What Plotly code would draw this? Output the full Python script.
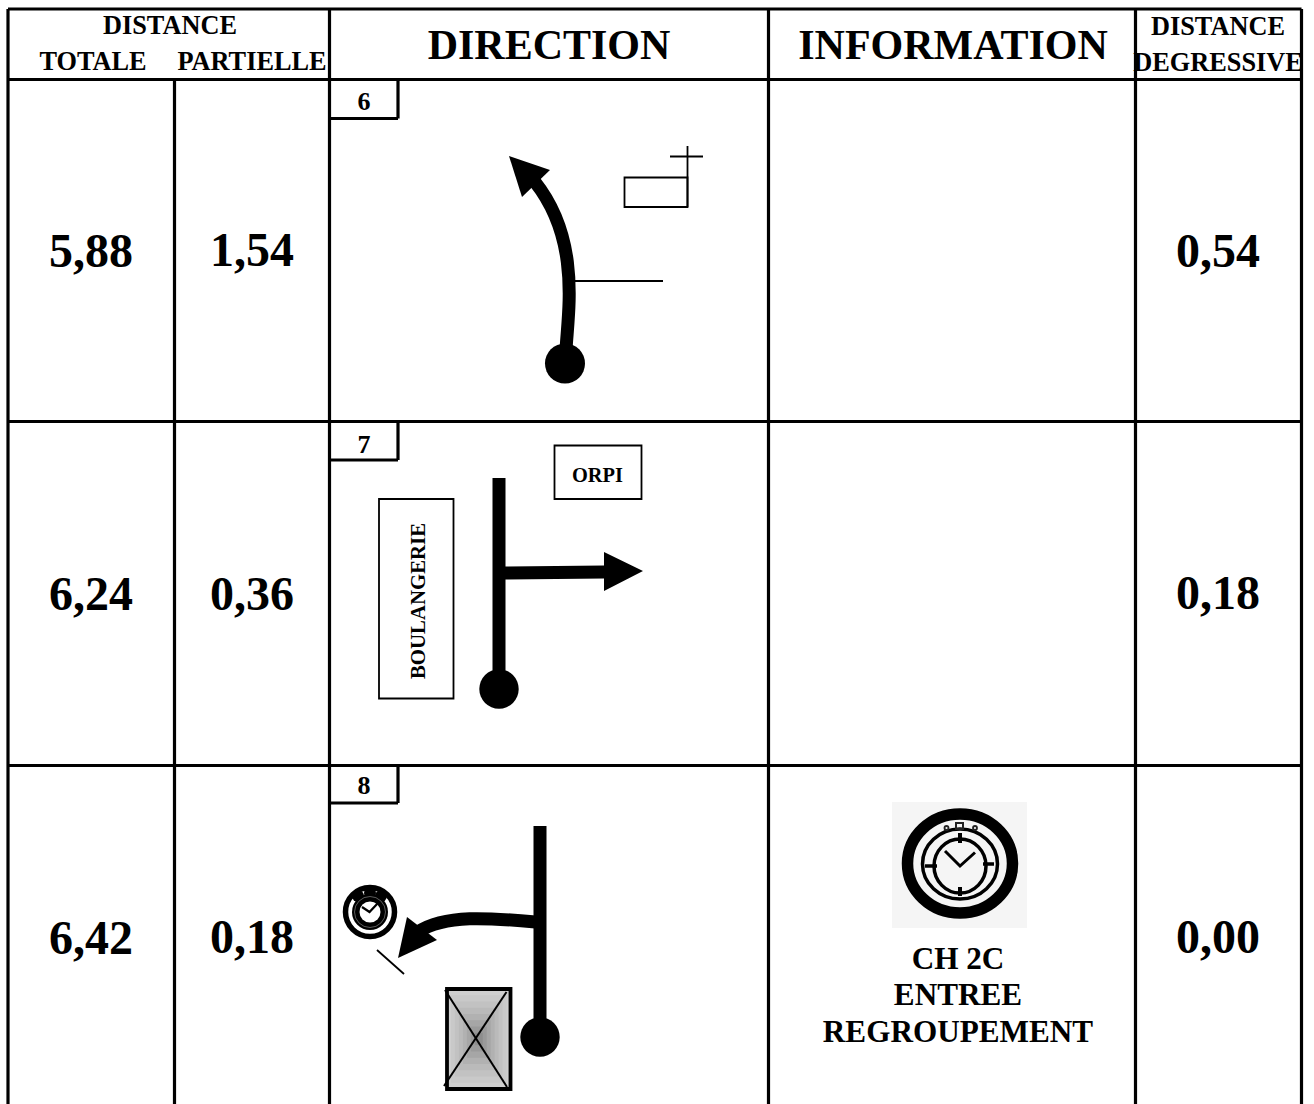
import plotly.graph_objects as go

# ---------- content ----------
row_ids = ["6", "7", "8"]
totale = ["5,88", "6,24", "6,42"]
partielle = ["1,54", "0,36", "0,18"]
degressive = ["0,54", "0,18", "0,00"]
info_lines = ["CH 2C", "ENTREE", "REGROUPEMENT"]

FONT = "Liberation Serif"
W, H = 1314, 1104

# ---------- table geometry ----------
col_x = [8, 174.5, 329.5, 768.5, 1135.5, 1301.5]
row_y = [9, 79.5, 421.5, 765.5]
row_text_y = [[255, 254, 255], [598, 598, 597], [942, 941, 941]]
num_x = [91, 252, 1218]
id_box_y = [(79.5, 118.5), (421.5, 460), (765.5, 803)]

shapes = []


def line(x0, y0, x1, y1, w=3.2, c="#000"):
    shapes.append(dict(type="line", x0=x0, y0=y0, x1=x1, y1=y1,
                       line=dict(color=c, width=w), layer="above"))


def rect(x0, y0, x1, y1, w=2, lc="#000", fill=None):
    d = dict(type="rect", x0=x0, y0=y0, x1=x1, y1=y1, layer="above",
             line=dict(color=lc, width=w))
    if fill:
        d["fillcolor"] = fill
    shapes.append(d)


def oval(cx, cy, rx, ry, fill=None, lc="rgba(0,0,0,0)", w=0):
    d = dict(type="circle", x0=cx - rx, x1=cx + rx, y0=cy - ry, y1=cy + ry,
             layer="above", line=dict(color=lc, width=w))
    if fill:
        d["fillcolor"] = fill
    shapes.append(d)


def path(p, w=0, lc="#000", fill=None):
    d = dict(type="path", path=p, layer="above", line=dict(color=lc, width=w))
    if fill:
        d["fillcolor"] = fill
    shapes.append(d)


# ---------- diagram 6 ----------
path("M 566 350 C 568 312, 581 240, 535 182", w=13)
path("M 509 156 L 550 170 L 522 197 Z", fill="#000")
oval(565, 363.5, 20, 20, "#000")
line(575, 281, 663, 281, 1.8)
rect(624.5, 177.5, 687.5, 207, 1.8)
line(687.5, 146, 687.5, 207, 1.8)
line(670, 156.5, 703, 156.5, 1.8)

# ---------- diagram 7 ----------
line(499, 478, 499, 680, 13)
oval(499, 689, 19.7, 19.7, "#000")
path("M 505 566.5 L 604 565.5 L 604 552 L 643 571 L 604 591 L 604 578.5 L 505 579.5 Z", fill="#000")
rect(379, 499, 453.5, 698.5, 1.8)
rect(554.5, 445.5, 641.5, 499, 1.8)

# ---------- diagram 8 ----------
line(540, 826, 540, 1030, 13)
oval(540, 1037, 19.7, 19.7, "#000")
path("M 536 922 C 490 918, 445 914, 418 932", w=13)
path("M 398 958 L 407 917 L 437 940 Z", fill="#000")
line(377, 950, 404, 974, 1.8)
# shaded box (centre-dark gradient drawn as nested rectangles)
box_grays = ["#cfcfcf", "#c9c9c9", "#c2c2c2", "#bababa", "#b1b1b1", "#a6a6a6", "#9a9a9a", "#8d8d8d"]
bx0, by0, bx1, by1 = 447, 989, 510.5, 1089
for i, g in enumerate(box_grays):
    f = i / len(box_grays)
    dx, dy = f * (bx1 - bx0) / 2, f * (by1 - by0) / 2
    shapes.append(dict(type="rect", x0=bx0 + dx, x1=bx1 - dx, y0=by0 + dy, y1=by1 - dy,
                       fillcolor=g, line=dict(width=0), layer="above"))
line(444, 1086, 506.5, 992, 2)
line(445, 990, 507, 1087, 2)
rect(447, 989, 510.5, 1089, 3.8)

# small clock
oval(370, 912, 24.5, 24.5, None, "#000", 5.5)
oval(370, 912, 18, 18, "#000")
oval(358, 896, 6, 6, "#000")
oval(370, 893, 6, 6, "#000")
oval(381, 896, 6, 6, "#000")
oval(370, 912, 15.5, 15.5, None, "#999", 0.6)
oval(370, 912, 10.5, 10.5, "#fff")
path("M 362 907 L 369.5 912 L 378 903", w=2.2)

# ---------- information clock ----------
rect(892, 802, 1027, 928, 0, "rgba(0,0,0,0)", "#f5f5f5")
oval(960, 863.5, 52.5, 49.5, None, "#000", 11.5)
oval(960, 864, 37.5, 35, None, "#000", 3.5)
oval(960, 866, 26, 27, None, "#000", 3.5)
line(960, 833, 960, 843, 4)
line(960, 887, 960, 896, 4)
line(925, 866, 937, 866, 3.5)
line(983, 864, 994, 864, 3.5)
path("M 945 851 L 960 866 L 975 852.5", w=3)
rect(956, 823, 963, 829, 2, "#222")
oval(946.5, 828, 2, 2, None, "#222", 1.8)
oval(975, 828, 2, 2, None, "#222", 1.8)

# ---------- table rules ----------
line(col_x[0], row_y[0], col_x[5], row_y[0])
for y in row_y[1:]:
    line(col_x[0], y, col_x[5], y)
for i, x in enumerate(col_x):
    line(x, 80 if i == 1 else row_y[0], x, H)
for (y0, y1) in id_box_y:
    line(329.5, y1, 398, y1)
    line(398, y0, 398, y1)

# ---------- text ----------
traces = []


def text(strings, xs, ys, size):
    traces.append(go.Scatter(x=xs, y=ys, text=strings, mode="text", textposition="middle center",
                             cliponaxis=False, hoverinfo="skip", showlegend=False,
                             textfont=dict(family=FONT, size=size, color="#000", weight="bold")))


text(["DISTANCE", "TOTALE", "PARTIELLE", "DISTANCE", "DEGRESSIVE"],
     [170, 93, 252, 1218, 1218], [27.5, 63.5, 63.5, 28.5, 64.5], 26.3)
text(["DIRECTION", "INFORMATION"], [549, 953], [48, 48], 42)
for j, vals in enumerate([totale, partielle, degressive]):
    text(vals, [num_x[j]] * 3, [row_text_y[r][j] for r in range(3)], 48)
text(row_ids, [364, 364, 364], [103, 446, 787], 26)
text(["ORPI"], [597.5], [477], 20.4)
text(info_lines, [958, 958, 958], [961, 997, 1034], 31.2)

fig = go.Figure(traces)
fig.add_annotation(x=417, y=601, text="<b>BOULANGERIE</b>", textangle=-90, showarrow=False,
                   font=dict(family=FONT, size=20.8, color="#000"), xanchor="center", yanchor="middle")
fig.update_layout(width=W, height=H, margin=dict(l=0, r=0, t=0, b=0), paper_bgcolor="#fff",
                  plot_bgcolor="#fff", shapes=shapes, showlegend=False,
                  xaxis=dict(range=[0, W], visible=False, fixedrange=True),
                  yaxis=dict(range=[H, 0], visible=False, fixedrange=True))
fig.write_html("out.html", config=dict(displayModeBar=False),
               post_script="document.body.style.margin='0';")
